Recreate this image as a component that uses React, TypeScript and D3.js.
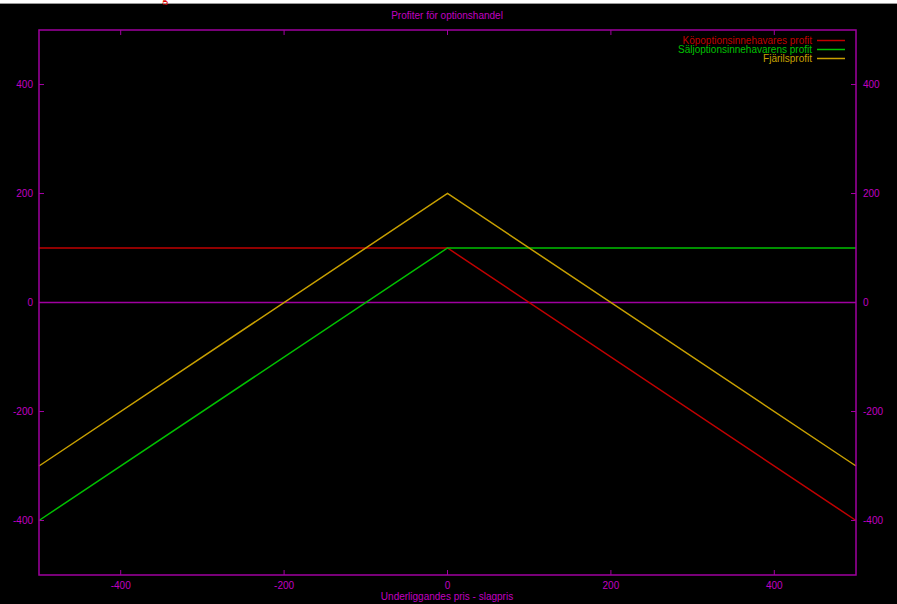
import React from "react";
import * as d3 from "d3";

// underlying price minus strike
const priceDiff = [-500, 0, 500];
const callHolder = [100, 100, -400];
const putHolder = [-400, 100, 100];
const butterfly = [-300, 200, -300];

const seriesNames = [
  "Köpoptionsinnehavares profit",
  "Säljoptionsinnehavarens profit",
  "Fjärilsprofit",
];
const seriesColors = ["#c00000", "#00c000", "#c8a000"];

const xTicks = [-400, -200, 0, 200, 400];
const yTicks = [-400, -200, 0, 200, 400];

const W = 897;
const H = 604;
const axisColor = "#a000a0";
const textColor = "#c000c0";
const font = "'Liberation Sans', Arial, sans-serif";

const App = () => {
  const margins = { top: 30, right: 41, bottom: 29, left: 39 };

  const xScale = d3
    .scaleLinear()
    .domain([-500, 500])
    .range([margins.left, W - margins.right]);

  const yScale = d3
    .scaleLinear()
    .domain([-500, 500])
    .range([H - margins.bottom, margins.top]);

  const line = d3
    .line<number>()
    .x((_, i) => xScale(priceDiff[i]))
    .y((d) => yScale(d));

  const allSeries = [callHolder, putHolder, butterfly];
  const [x0, x1] = xScale.range();
  const [y0, y1] = yScale.range();
  const tickLen = 5;

  return (
    <svg
      width={W}
      height={H}
      style={{ position: "absolute", left: 0, top: 0, display: "block" }}
      fontFamily={font}
    >
      <rect x={0} y={0} width={W} height={H} fill="#000" />
      {/* strip of the page above the picture */}
      <rect x={0} y={0} width={W} height={3} fill="#fff" />
      <line x1={0} x2={W} y1={3.5} y2={3.5} stroke="#999" strokeWidth={1} />
      <text x={165} y={2} fill="#e00000" fontSize={12} fontFamily="serif" textAnchor="middle">
        g
      </text>

      <text x={447} y={19} fill={textColor} fontSize={10} textAnchor="middle">
        Profiter för optionshandel
      </text>

      {/* zero line */}
      <line
        x1={x0}
        x2={x1}
        y1={yScale(0)}
        y2={yScale(0)}
        stroke={axisColor}
        strokeWidth={1.5}
      />

      {/* ticks and labels */}
      {xTicks.map((t) => (
        <g key={"x" + t}>
          <line x1={xScale(t)} x2={xScale(t)} y1={y0} y2={y0 - tickLen} stroke={axisColor} />
          <line x1={xScale(t)} x2={xScale(t)} y1={y1} y2={y1 + tickLen} stroke={axisColor} />
          <text
            x={xScale(t)}
            y={y0 + 14}
            fill={textColor}
            fontSize={10}
            textAnchor="middle"
          >
            {t}
          </text>
        </g>
      ))}
      {yTicks.map((t) => (
        <g key={"y" + t}>
          <line x1={x0} x2={x0 + tickLen} y1={yScale(t)} y2={yScale(t)} stroke={axisColor} />
          <line x1={x1} x2={x1 - tickLen} y1={yScale(t)} y2={yScale(t)} stroke={axisColor} />
          <text
            x={x0 - 6}
            y={yScale(t) + 3.5}
            fill={textColor}
            fontSize={10}
            textAnchor="end"
          >
            {t}
          </text>
          <text
            x={x1 + 7}
            y={yScale(t) + 3.5}
            fill={textColor}
            fontSize={10}
            textAnchor="start"
          >
            {t}
          </text>
        </g>
      ))}

      {/* series */}
      {allSeries.map((s, i) => (
        <path
          key={seriesNames[i]}
          d={line(s) || ""}
          fill="none"
          stroke={seriesColors[i]}
          strokeWidth={1.5}
        />
      ))}

      {/* frame */}
      <rect
        x={x0}
        y={y1}
        width={x1 - x0}
        height={y0 - y1}
        fill="none"
        stroke={axisColor}
        strokeWidth={1.5}
      />

      {/* legend */}
      {seriesNames.map((name, i) => (
        <g key={"leg" + i} transform={`translate(0, ${40.5 + i * 9})`}>
          <text x={812} y={3.5} fill={seriesColors[i]} fontSize={10} textAnchor="end">
            {name}
          </text>
          <line x1={817} x2={845} y1={0} y2={0} stroke={seriesColors[i]} strokeWidth={1.5} />
        </g>
      ))}

      <text x={447} y={600} fill={textColor} fontSize={10} textAnchor="middle">
        Underliggandes pris - slagpris
      </text>
    </svg>
  );
};

export default App;
